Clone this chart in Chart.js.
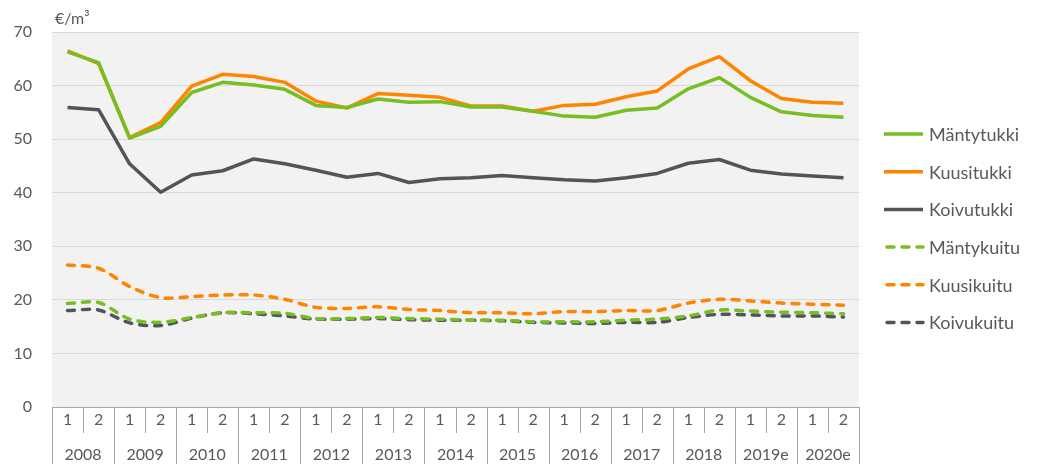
<!DOCTYPE html>
<html><head><meta charset="utf-8">
<script src="https://cdn.jsdelivr.net/npm/chart.js@4"></script>
<style>html,body{margin:0;padding:0;background:#fff}#wrap{width:1050px;height:464px}</style>
</head><body><div id="wrap"><canvas id="c" width="1050" height="464"></canvas></div>
<script>
const halfLabels = ['1','2','1','2','1','2','1','2','1','2','1','2','1','2','1','2','1','2','1','2','1','2','1','2','1','2'];
const yearLabels = ['2008','2009','2010','2011','2012','2013','2014','2015','2016','2017','2018','2019e','2020e'];
const yTicks = [0,10,20,30,40,50,60,70];
const unitLabel = '€/m³';

const mantytukki = [66.3,64.3,50.2,52.4,58.7,60.6,60.1,59.3,56.3,55.9,57.5,56.9,57.0,56.0,56.0,55.2,54.3,54.1,55.4,55.8,59.4,61.5,57.8,55.1,54.4,54.1];
const kuusitukki = [66.5,64.1,50.3,53.1,59.9,62.1,61.7,60.6,57.1,55.8,58.5,58.2,57.8,56.2,56.2,55.2,56.3,56.5,57.9,59.0,63.1,65.4,60.9,57.6,56.9,56.7];
const koivutukki = [55.9,55.5,45.4,40.1,43.3,44.1,46.3,45.4,44.2,42.9,43.6,41.9,42.6,42.8,43.2,42.8,42.4,42.2,42.8,43.6,45.5,46.2,44.2,43.5,43.1,42.8];
const mantykuitu = [19.3,19.5,16.4,15.8,16.7,17.6,17.6,17.5,16.5,16.5,16.7,16.5,16.4,16.2,16.2,15.9,15.9,15.9,16.2,16.4,17.0,18.1,17.9,17.7,17.6,17.4];
const kuusikuitu = [26.5,25.9,22.5,20.4,20.6,20.9,20.9,20.1,18.6,18.4,18.7,18.2,18.0,17.6,17.6,17.4,17.8,17.8,18.0,18.0,19.4,20.1,19.8,19.4,19.2,19.0];
const koivukuitu = [18.0,18.1,15.7,15.2,16.6,17.6,17.4,17.0,16.4,16.4,16.5,16.3,16.2,16.2,16.1,15.8,15.7,15.6,15.8,15.8,16.7,17.3,17.2,17.0,17.0,16.8];

const seriesNames = ['Mäntytukki','Kuusitukki','Koivutukki','Mäntykuitu','Kuusikuitu','Koivukuitu'];

const GREEN = '#77BE22', ORANGE = '#FF8400', GREY = '#50555A';
const TEXT = '#595959';
const FONT = 'Lato, "Open Sans", sans-serif';
const DASH = [7,8];

function ds(label, data, color, dashed) {
  return {
    label, data,
    borderColor: color, backgroundColor: color,
    borderWidth: 3.5,
    borderDash: dashed ? DASH : [],
    borderCapStyle: dashed ? 'round' : 'butt',
    borderJoinStyle: 'round',
    tension: dashed ? 0.3 : 0,
    pointRadius: 0, pointHoverRadius: 0,
    fill: false
  };
}

const decor = {
  id: 'decor',
  beforeDraw(chart) {
    const {ctx, chartArea: a} = chart;
    ctx.save();
    ctx.fillStyle = '#F2F2F2';
    ctx.fillRect(a.left, a.top, a.right - a.left, a.bottom - a.top);
    ctx.restore();
  },
  afterDraw(chart) {
    const {ctx, chartArea: a} = chart;
    const xs = chart.scales.x;
    const n = halfLabels.length;
    const w = (a.right - a.left) / n;
    ctx.save();
    ctx.strokeStyle = '#A6A6A6';
    ctx.lineWidth = 1;
    for (let i = 0; i <= n; i++) {
      const x = Math.round(a.left + i * w) + 0.5;
      const yEnd = (i % 2 === 0) ? 464 : 433;
      ctx.beginPath();
      ctx.moveTo(x, a.bottom);
      ctx.lineTo(x, yEnd);
      ctx.stroke();
    }
    ctx.fillStyle = TEXT;
    ctx.font = '16px ' + FONT;
    ctx.textAlign = 'center';
    ctx.textBaseline = 'middle';
    yearLabels.forEach((y, k) => {
      const x = (xs.getPixelForValue(2*k) + xs.getPixelForValue(2*k+1)) / 2;
      ctx.fillText(y, x, 455);
    });
    ctx.textAlign = 'left';
    ctx.fillText(unitLabel, 55, 19);
    ctx.font = '18px ' + FONT;
    chart.data.datasets.forEach((d, i) => {
      const y = 134 + i * 37.7;
      ctx.save();
      ctx.strokeStyle = d.borderColor;
      ctx.lineWidth = d.borderWidth;
      ctx.setLineDash(d.borderDash);
      ctx.lineCap = d.borderCapStyle;
      ctx.beginPath();
      ctx.moveTo(d.borderDash.length ? 887 : 884, y);
      ctx.lineTo(923, y);
      ctx.stroke();
      ctx.restore();
      ctx.fillStyle = TEXT;
      ctx.fillText(d.label, 929, y + 1);
    });
    ctx.restore();
  }
};

new Chart(document.getElementById('c'), {
  type: 'line',
  data: {
    labels: halfLabels,
    datasets: [
      ds(seriesNames[0], mantytukki, GREEN, false),
      ds(seriesNames[1], kuusitukki, ORANGE, false),
      ds(seriesNames[2], koivutukki, GREY, false),
      ds(seriesNames[3], mantykuitu, GREEN, true),
      ds(seriesNames[4], kuusikuitu, ORANGE, true),
      ds(seriesNames[5], koivukuitu, GREY, true)
    ]
  },
  options: {
    responsive: false,
    animation: false,
    devicePixelRatio: 1,
    layout: { padding: { left: 0, top: 32, right: 191, bottom: 0 } },
    plugins: { legend: { display: false }, tooltip: { enabled: false }, title: { display: false } },
    scales: {
      x: {
        type: 'category',
        offset: true,
        grid: { display: false, drawTicks: false },
        border: { display: true, color: '#A6A6A6', width: 1 },
        ticks: { color: TEXT, font: { family: FONT, size: 16 }, padding: 3, maxRotation: 0, autoSkip: false },
        afterFit(s) { s.height = 57; }
      },
      y: {
        min: 0, max: 70,
        afterBuildTicks(s) { s.ticks = yTicks.map(v => ({ value: v })); },
        grid: { color: '#D9D9D9', lineWidth: 1, drawTicks: false },
        border: { display: false },
        ticks: { color: TEXT, font: { family: FONT, size: 16 }, padding: 20 },
        afterFit(s) { s.width = 52; }
      }
    }
  },
  plugins: [decor]
});
</script>
</body></html>
